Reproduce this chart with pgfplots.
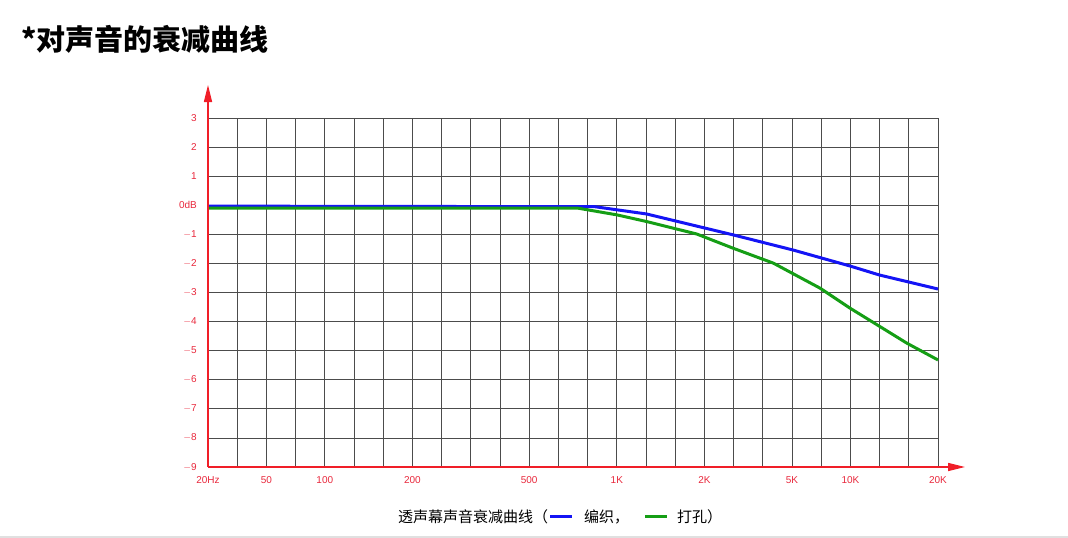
\documentclass[border=0pt]{standalone}
\usepackage{pgfplots}
\pgfplotsset{compat=1.18}
\usepackage{fontspec}
\usetikzlibrary{arrows.meta}
\setmainfont{Liberation Sans}
\newfontfamily\cjk{Noto Sans CJK SC}

\definecolor{axred}{HTML}{F01E28}
\definecolor{lblred}{HTML}{E8283C}
\definecolor{cblue}{HTML}{1414F5}
\definecolor{cgreen}{HTML}{159E15}

\begin{document}
\begin{tikzpicture}[x=1pt,y=1pt]
  \useasboundingbox (0,0) rectangle (1068,-538);
  \fill[black!12] (0,-536) rectangle (1068,-538);

  % title
  \node[anchor=base west, inner sep=0pt] at (21,-50)
    {\cjk\bfseries\fontsize{29}{32}\selectfont *对声音的衰减曲线};

  \begin{axis}[
      at={(208pt,-467pt)}, anchor=south west,
      scale only axis,
      width=730pt, height=349pt,
      xmin=0, xmax=25,
      ymin=-9, ymax=3,
      axis line style={draw=none},
      major tick length=0pt,
      xtick={0,...,25},
      xticklabels={20Hz,,50,,100,,,200,,,,500,,,1K,,,2K,,,5K,,10K,,,20K},
      ytick={-9,...,3},
      yticklabels={$-$9,$-$8,$-$7,$-$6,$-$5,$-$4,$-$3,$-$2,$-$1,0dB,1,2,3},
      grid=major,
      grid style={black!70, line width=0.75pt},
      ticklabel style={font=\fontsize{10}{11}\selectfont, text=lblred, inner sep=0pt},
      xticklabel style={yshift=-9pt},
      yticklabel style={xshift=-11pt},
      clip=false,
    ]
    % 编织
    \addplot[cblue, line width=3pt] coordinates {
      (0,-0.03) (13.25,-0.05) (15.02,-0.30) (17.99,-1.02)
      (20.04,-1.54) (21.99,-2.09) (23.0,-2.40) (25,-2.88)
    };
    % 打孔
    \addplot[cgreen, line width=3pt] coordinates {
      (0,-0.10) (12.67,-0.10) (14.0,-0.33) (15.02,-0.56) (16.74,-0.99)
      (17.99,-1.48) (19.36,-1.99) (20.96,-2.85) (21.99,-3.54)
      (23.01,-4.17) (23.93,-4.74) (25,-5.32)
    };
  \end{axis}

  % red axes with arrows
  \draw[axred, line width=1.3pt, -{Triangle[length=17pt,width=8pt]}]
    (208,-467) -- (965,-467);
  \draw[axred, line width=1.3pt, -{Triangle[length=17pt,width=8pt]}]
    (208,-467) -- (208,-85);

  % caption / legend
  \node[anchor=base west, inner sep=0pt] at (398,-522)
    {\cjk\fontsize{15}{18}\selectfont 透声幕声音衰减曲线（\hspace{2pt}{\color{cblue}\rule[4pt]{22pt}{3pt}}\hspace{12pt}编织，\hspace{16pt}{\color{cgreen}\rule[4pt]{22pt}{3pt}}\hspace{10pt}打孔）};
\end{tikzpicture}
\end{document}
